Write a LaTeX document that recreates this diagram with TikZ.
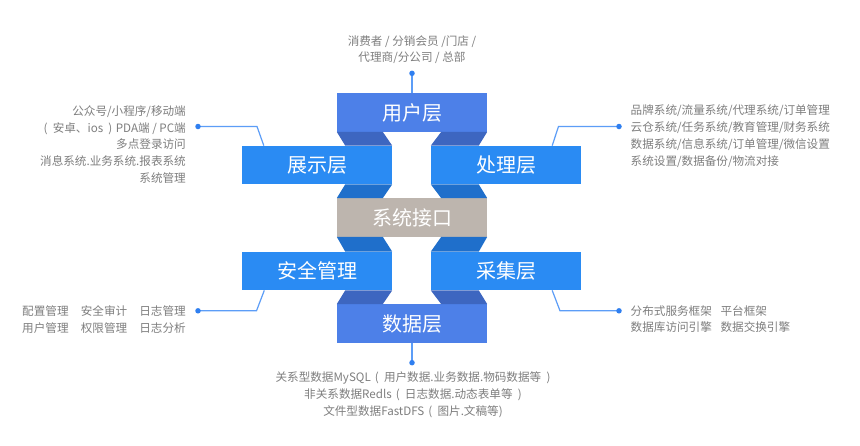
\documentclass[tikz,border=0pt]{standalone}
\usepackage{fontspec}
\setmainfont{Noto Sans CJK SC}
\usetikzlibrary{calc}
\definecolor{midblue}{HTML}{4D80E8}
\definecolor{sideblue}{HTML}{2A8BF3}
\definecolor{darkA}{HTML}{3D66C0}
\definecolor{darkB}{HTML}{1F6FCB}
\definecolor{taupe}{HTML}{BDB5AE}
\definecolor{lineblue}{HTML}{5C9DF7}
\definecolor{dotblue}{HTML}{2F7FF0}
\definecolor{txtgray}{HTML}{7E7E7E}
\tikzset{
  layerbox/.style={minimum width=150pt, minimum height=38.4pt, inner sep=0pt,
    text=white, font=\fontsize{20}{24}\selectfont},
  info/.style={text=txtgray, inner sep=0pt, font=\fontsize{11.6}{16.8}\selectfont},
  callout/.style={draw=lineblue, line width=1.2pt},
  dotmark/.style={circle, fill=dotblue, minimum size=5.5pt, inner sep=0pt}
}
\begin{document}
\begin{tikzpicture}[x=1pt,y=-1pt]
\path[use as bounding box, fill=white] (0,0) rectangle (860,445);

% layer boxes
\node[layerbox, fill=midblue]  (user) at (412,112.5) {用户层};
\node[layerbox, fill=sideblue] (show) at (317,165) {展示层};
\node[layerbox, fill=sideblue] (proc) at (506,165) {处理层};
\node[layerbox, fill=taupe]    (sys)  at (412,217.5) {系统接口};
\node[layerbox, fill=sideblue] (safe) at (317,271) {安全管理};
\node[layerbox, fill=sideblue] (coll) at (506,271) {采集层};
\node[layerbox, fill=midblue]  (data) at (412,323.5) {数据层};

% folded ribbon connectors
\fill[darkA] (user.south west) -- ($(user.south west)+(46,0)$) -- (show.north east) -- ($(show.north east)+(-47,0)$) -- cycle;
\fill[darkA] (user.south east) -- ($(user.south east)+(-46,0)$) -- (proc.north west) -- ($(proc.north west)+(48,0)$) -- cycle;
\fill[darkB] (show.south east) -- ($(show.south east)+(-47,0)$) -- (sys.north west) -- ($(sys.north west)+(46,0)$) -- cycle;
\fill[darkB] (proc.south west) -- ($(proc.south west)+(48,0)$) -- (sys.north east) -- ($(sys.north east)+(-46,0)$) -- cycle;
\fill[darkB] (sys.south west) -- ($(sys.south west)+(46,0)$) -- (safe.north east) -- ($(safe.north east)+(-47,0)$) -- cycle;
\fill[darkB] (sys.south east) -- ($(sys.south east)+(-46,0)$) -- (coll.north west) -- ($(coll.north west)+(48,0)$) -- cycle;
\fill[darkA] (safe.south east) -- ($(safe.south east)+(-47,0)$) -- (data.north west) -- ($(data.north west)+(46,0)$) -- cycle;
\fill[darkA] (coll.south west) -- ($(coll.south west)+(48,0)$) -- (data.north east) -- ($(data.north east)+(-46,0)$) -- cycle;

% callouts
\coordinate (dTop) at (412,73.3);
\coordinate (dLT) at (198,126.5);
\coordinate (bLT) at (257,126.5);
\coordinate (dRT) at (619,126.5);
\coordinate (bRT) at (558.5,126.5);
\coordinate (dLB) at (198,310.8);
\coordinate (bLB) at (256.5,310.8);
\coordinate (dRB) at (619,310.8);
\coordinate (bRB) at (560,310.8);
\coordinate (dBot) at (412,362.7);

\draw[callout] (dTop) -- (user.north);
\draw[callout] (dLT) -- (bLT) -- ($(show.north west)+(22,0)$);
\draw[callout] (dRT) -- (bRT) -- ($(proc.north east)+(-29,0)$);
\draw[callout] (dLB) -- (bLB) -- ($(safe.south west)+(22.5,0)$);
\draw[callout] (dRB) -- (bRB) -- ($(coll.south east)+(-29,0)$);
\draw[callout] (dBot) -- (data.south);

\foreach \p in {dTop,dLT,dRT,dLB,dRB,dBot}{\node[dotmark] at (\p) {};}

% texts
\node[info, align=center] (tTop) at (412,49.7) {消费者 / 分销会员 /门店 /\\代理商/分公司 / 总部};
\node[info, align=right, anchor=east] (tLT) at (186,144.5) {公众号/小程序/移动端\\(\hspace{0.45em}安卓、ios\hspace{0.45em})\hspace{0.3em}PDA端 / PC端\\多点登录访问\\消息系统.业务系统.报表系统\\系统管理};
\node[info, align=left, anchor=west] (tRT) at (630.5,136.2) {品牌系统/流量系统/代理系统/订单管理\\云仓系统/任务系统/教育管理/财务系统\\数据系统/信息系统/订单管理/微信设置\\系统设置/数据备份/物流对接};
\node[info, align=right, anchor=east] (tLB) at (186,319.6) {配置管理\hspace{1.05em}安全审计\hspace{1.05em}日志管理\\用户管理\hspace{1.05em}权限管理\hspace{1.05em}日志分析};
\node[info, align=left, anchor=west] (tRB) at (630.5,319) {分布式服务框架\hspace{0.75em}平台框架\\数据库访问引擎\hspace{0.75em}数据交换引擎};
\node[info, align=center] (tBot) at (413,395) {关系型数据MySQL\hspace{0.35em}(\hspace{0.45em}用户数据.业务数据.物码数据等\hspace{0.45em})\\非关系数据Redls\hspace{0.35em}(\hspace{0.45em}日志数据.动态表单等\hspace{0.45em})\\文件型数据FastDFS\hspace{0.35em}(\hspace{0.45em}图片.文稿等)};
\end{tikzpicture}
\end{document}
